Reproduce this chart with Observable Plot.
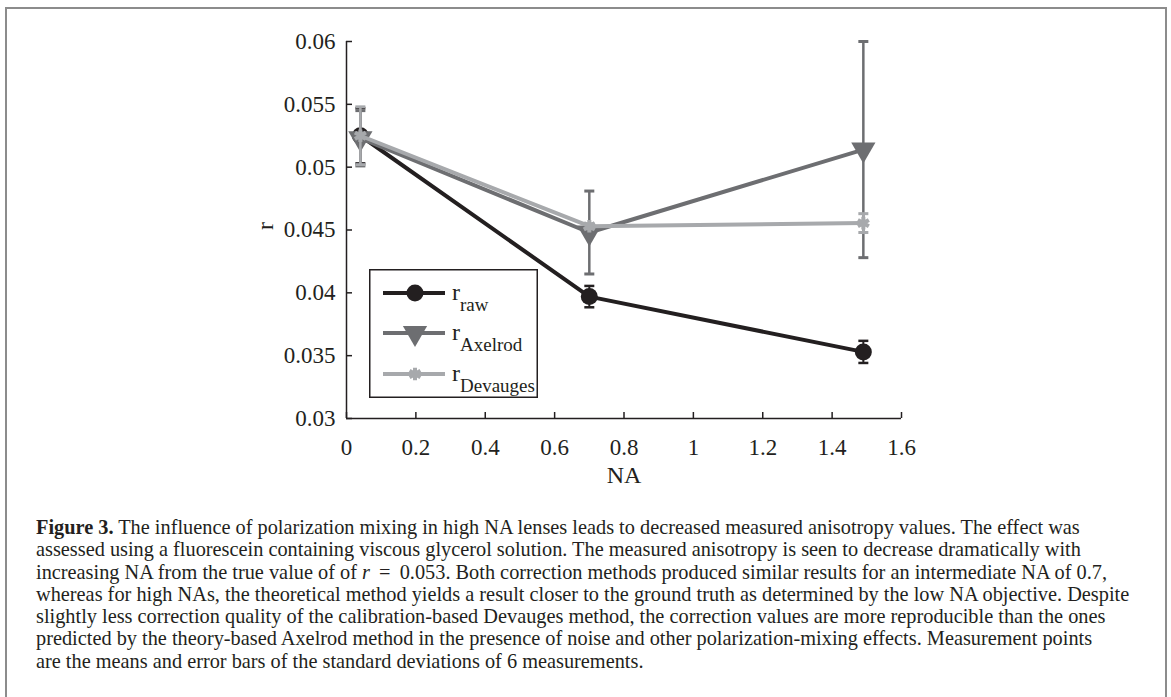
<!DOCTYPE html>
<html><head><meta charset="utf-8">
<script src="https://cdn.jsdelivr.net/npm/d3@7"></script>
<script src="https://cdn.jsdelivr.net/npm/@observablehq/plot@0.6"></script>
<style>
body{margin:0;background:#fff;}
#wrap{position:relative;width:1171px;height:697px;overflow:hidden;font-family:"Liberation Serif","Times New Roman",serif;color:#231f20;background:#fff;}
#frame{position:absolute;left:5px;top:7px;width:1158px;height:720px;border:2px solid #8c8c8c;border-bottom:none;}
#chart{position:absolute;left:0;top:0;}
#legend{position:absolute;left:369px;top:269px;}
#caption{position:absolute;left:36px;top:516px;font-size:18px;line-height:22.3px;white-space:nowrap;}
#caption span{display:inline-block;}
</style></head>
<body><div id="wrap"><div id="frame"></div><div id="chart"></div><div id="legend"></div><div id="caption"></div></div>
<script>
// ---- data ----
const seriesNames = ["raw", "Axelrod", "Devauges"];
const naValues = [0.04, 0.7, 1.49];
const rawMean = [0.0525, 0.0397, 0.0353];
const rawStd = [0.0022, 0.00085, 0.00088];
const axelrodMean = [0.0523, 0.0448, 0.0514];
const axelrodStd = [0.0022, 0.0033, 0.0086];
const devaugesMean = [0.0525, 0.0453, 0.04555];
const devaugesStd = [0.0023, 0.0002, 0.00075];
const xTicks = [0, 0.2, 0.4, 0.6, 0.8, 1, 1.2, 1.4, 1.6];
const yTicks = [0.03, 0.035, 0.04, 0.045, 0.05, 0.055, 0.06];
const seriesColors = ["#231f20", "#6d6e71", "#a7a9ac"];
const captionLines = [
  "<b>Figure 3.</b> The influence of polarization mixing in high NA lenses leads to decreased measured anisotropy values. The effect was",
  "assessed using a fluorescein containing viscous glycerol solution. The measured anisotropy is seen to decrease dramatically with",
  "increasing NA from the true value of of <i>r</i> &thinsp;=&thinsp; 0.053. Both correction methods produced similar results for an intermediate NA of 0.7,",
  "whereas for high NAs, the theoretical method yields a result closer to the ground truth as determined by the low NA objective. Despite",
  "slightly less correction quality of the calibration-based Devauges method, the correction values are more reproducible than the ones",
  "predicted by the theory-based Axelrod method in the presence of noise and other polarization-mixing effects. Measurement points",
  "are the means and error bars of the standard deviations of 6 measurements."
];

const means = [rawMean, axelrodMean, devaugesMean];
const stds = [rawStd, axelrodStd, devaugesStd];
const tables = seriesNames.map((s, k) => naValues.map((na, i) => ({
  series: s, na, r: means[k][i], lo: means[k][i] - stds[k][i], hi: means[k][i] + stds[k][i]
})));

const capSymbol = {draw(ctx, size) { const w = Math.sqrt(size / Math.PI); ctx.moveTo(-w, 0); ctx.lineTo(w, 0); }};
const markerOpts = [
  {symbol: "circle", r: 8.5, fill: seriesColors[0], stroke: "none"},
  {symbol: "triangle", r: 9, rotate: 180, fill: seriesColors[1], stroke: "none"},
  {symbol: "asterisk", r: 6, stroke: seriesColors[2], strokeWidth: 4, fill: "none"}
];
const barWidths = [2, 2.5, 2.5];

const marks = [
  Plot.ruleX([0], {stroke: "#231f20", strokeWidth: 1.5}),
  Plot.ruleY([0.03], {stroke: "#231f20", strokeWidth: 1.5}),
  Plot.axisX({ticks: xTicks, tickSize: -6, tickPadding: 26, tickFormat: d => String(d), label: null, fontSize: 23, stroke: "#231f20", strokeWidth: 1.5}),
  Plot.axisY({ticks: yTicks, tickSize: -6, tickPadding: 17, tickFormat: d => String(d), label: null, fontSize: 23, stroke: "#231f20", strokeWidth: 1.5}),
  Plot.text(["r"], {frameAnchor: "left", dx: -81, rotate: -90, fontSize: 24, fill: "#231f20"}),
  Plot.text(["NA"], {frameAnchor: "bottom", dy: 64, fontSize: 24, fill: "#231f20"})
];
tables.forEach((t, k) => {
  const c = seriesColors[k];
  marks.push(
    Plot.line(t, {x: "na", y: "r", stroke: c, strokeWidth: 4}),
    Plot.ruleX(t, {x: "na", y1: "lo", y2: "hi", stroke: c, strokeWidth: barWidths[k]}),
    Plot.dot(t, {x: "na", y: "lo", symbol: capSymbol, r: 5, stroke: c, strokeWidth: barWidths[k] + 0.5}),
    Plot.dot(t, {x: "na", y: "hi", symbol: capSymbol, r: 5, stroke: c, strokeWidth: barWidths[k] + 0.5}),
    Plot.dot(t, {x: "na", y: "r", ...markerOpts[k]})
  );
});

const chart = Plot.plot({
  width: 1171, height: 500,
  marginLeft: 346, marginRight: 270, marginTop: 41, marginBottom: 82,
  x: {domain: [0, 1.6]},
  y: {domain: [0.03, 0.06]},
  style: {fontFamily: '"Liberation Serif", "Times New Roman", serif', fontSize: "23px", color: "#231f20", background: "transparent", overflow: "visible"},
  marks
});
document.getElementById("chart").appendChild(chart);

// ---- legend ----
const lw = 169, lh = 129;
const lg = d3.select("#legend").append("svg").attr("width", lw).attr("height", lh);
lg.append("rect").attr("x", 0.75).attr("y", 0.75).attr("width", lw - 1.5).attr("height", lh - 1.5)
  .attr("fill", "#fff").attr("stroke", "#231f20").attr("stroke-width", 1.5);
const symTypes = [d3.symbolCircle, d3.symbolTriangle, d3.symbolAsterisk];
const rowY = [24, 64, 105];
seriesNames.forEach((s, k) => {
  const g = lg.append("g").attr("transform", `translate(0,${rowY[k]})`);
  g.append("line").attr("x1", 14).attr("x2", 76).attr("y1", 0).attr("y2", 0)
    .attr("stroke", seriesColors[k]).attr("stroke-width", 4);
  const o = markerOpts[k];
  g.append("path").attr("d", d3.symbol(symTypes[k], Math.PI * o.r * o.r)())
    .attr("transform", `translate(46,0) rotate(${o.rotate || 0})`)
    .attr("fill", o.fill).attr("stroke", o.stroke).attr("stroke-width", o.strokeWidth || 0);
  const tx = g.append("text").attr("x", 83).attr("y", 7).attr("fill", "#231f20")
    .style("font-family", '"Liberation Serif", serif');
  tx.append("tspan").attr("font-size", 24).text("r");
  tx.append("tspan").attr("font-size", 19).attr("dy", 11).text(s);
});

// ---- caption ----
const cap = document.getElementById("caption");
captionLines.forEach(l => {
  const sp = document.createElement("span"); sp.innerHTML = l;
  cap.appendChild(sp); cap.appendChild(document.createElement("br"));
});
const spans = [...cap.querySelectorAll("span")];
const widths = spans.map(s => s.getBoundingClientRect().width);
const wMax = Math.max(...widths);
cap.style.fontSize = (18 * 1094 / wMax) + "px";
</script>
</body></html>
